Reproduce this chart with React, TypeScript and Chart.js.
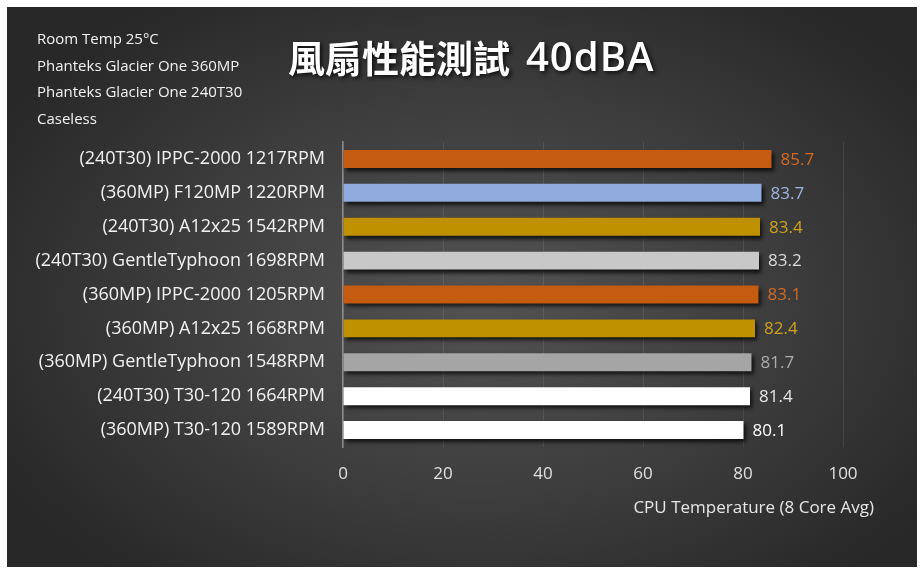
import React, { useEffect, useRef } from "react";
import { Chart, registerables } from "chart.js";
Chart.register(...registerables);

const categories = [
  "(240T30) IPPC-2000 1217RPM",
  "(360MP) F120MP 1220RPM",
  "(240T30) A12x25 1542RPM",
  "(240T30) GentleTyphoon 1698RPM",
  "(360MP) IPPC-2000 1205RPM",
  "(360MP) A12x25 1668RPM",
  "(360MP) GentleTyphoon 1548RPM",
  "(240T30) T30-120 1664RPM",
  "(360MP) T30-120 1589RPM",
];
const values = [85.7, 83.7, 83.4, 83.2, 83.1, 82.4, 81.7, 81.4, 80.1];
const barColors = ["#C55A11", "#8FAADC", "#BF9000", "#C8C8C8", "#C55A11", "#BF9000", "#A5A5A5", "#FFFFFF", "#FFFFFF"];
const labelColors = ["#D26A22", "#9DB4E0", "#CFA21E", "#DADADA", "#D26A22", "#CFA21E", "#ABABAB", "#E6E6E6", "#FFFFFF"];
const notes = ["Room Temp 25°C", "Phanteks Glacier One 360MP", "Phanteks Glacier One 240T30", "Caseless"];
const titleCJK = "風扇性能測試";
const titleLatin = "40dBA";
const axisTitle = "CPU Temperature (8 Core Avg)";
const xMin = 0;
const xMax = 100;
const xStep = 20;

const FONT = "'Open Sans', 'Noto Sans', sans-serif";

export default function App() {
  const ref = useRef<HTMLCanvasElement>(null);
  useEffect(() => {
    if (!ref.current) return;
    const shadowPlugin = {
      id: "barShadow",
      beforeDatasetsDraw(chart: any) {
        const ctx = chart.ctx;
        ctx.save();
        ctx.shadowColor = "rgba(0,0,0,0.75)";
        ctx.shadowBlur = 4;
        ctx.shadowOffsetX = 2;
        ctx.shadowOffsetY = 3;
      },
      afterDatasetsDraw(chart: any) {
        chart.ctx.restore();
      },
    };
    const textPlugin = {
      id: "texts",
      afterDraw(chart: any) {
        const ctx = chart.ctx;
        ctx.save();
        // value labels
        const meta = chart.getDatasetMeta(0);
        ctx.font = `17px ${FONT}`;
        ctx.textAlign = "left";
        ctx.textBaseline = "middle";
        meta.data.forEach((bar: any, i: number) => {
          ctx.fillStyle = labelColors[i];
          ctx.fillText(values[i].toFixed(1), bar.x + 9, bar.y + 1);
        });
        // notes
        ctx.font = `15px ${FONT}`;
        ctx.fillStyle = "#F2F2F2";
        notes.forEach((n, i) => {
          ctx.fillText(n, 30, 33 + i * 26.5);
        });
        // title
        ctx.font = `600 37px 'Noto Sans CJK TC', sans-serif`;
        ctx.shadowColor = "rgba(0,0,0,0.8)";
        ctx.shadowBlur = 4;
        ctx.shadowOffsetX = 2;
        ctx.shadowOffsetY = 2;
        ctx.fillStyle = "#FFFFFF";
        ctx.fillText(titleCJK, 281, 52);
        ctx.font = `600 40px 'Open Sans', sans-serif`;
        (ctx as any).letterSpacing = "1px";
        ctx.fillText(titleLatin, 519, 53);
        (ctx as any).letterSpacing = "0px";
        ctx.shadowColor = "transparent";
        // axis title
        ctx.font = `17px ${FONT}`;
        ctx.fillStyle = "#E6E6E6";
        ctx.textAlign = "right";
        ctx.fillText(axisTitle, 867, 501);
        ctx.restore();
      },
    };
    const chart = new Chart(ref.current, {
      type: "bar",
      data: {
        labels: categories,
        datasets: [
          {
            data: values,
            backgroundColor: barColors,
            borderWidth: 0,
            barPercentage: 0.53,
            categoryPercentage: 1,
          },
        ],
      },
      options: {
        indexAxis: "y",
        responsive: false,
        animation: false,
        layout: { padding: { left: 0, right: 74, top: 135, bottom: 80 } },
        plugins: { legend: { display: false }, tooltip: { enabled: false } },
        scales: {
          x: {
            min: xMin,
            max: xMax,
            ticks: { stepSize: xStep, color: "#E0E0E0", font: { family: FONT, size: 17 }, padding: 17 },
            grid: { color: "rgba(255,255,255,0.09)", drawTicks: false },
            border: { display: false },
            afterFit: (s: any) => {
              s.height = 40;
            },
          },
          y: {
            ticks: { color: "#F2F2F2", font: { family: FONT, size: 18 }, padding: 18 },
            grid: { display: false, drawTicks: false },
            border: { display: true, color: "#8C8C8C", width: 1.5 },
            afterFit: (s: any) => {
              s.width = 336;
            },
          },
        },
      },
      plugins: [shadowPlugin, textPlugin],
    } as any);
    return () => chart.destroy();
  }, []);
  return (
    <div style={{ position: "fixed", left: 0, top: 0, width: 924, height: 576, background: "#FFFFFF" }}>
      <div
        style={{
          position: "absolute",
          left: 7,
          top: 7,
          width: 910,
          height: 560,
          background: "radial-gradient(ellipse 60% 65% at 52% 52%, #535353 0%, #3f3f3f 50%, #282828 100%)",
        }}
      >
        <canvas ref={ref} width={910} height={560} />
      </div>
    </div>
  );
}
